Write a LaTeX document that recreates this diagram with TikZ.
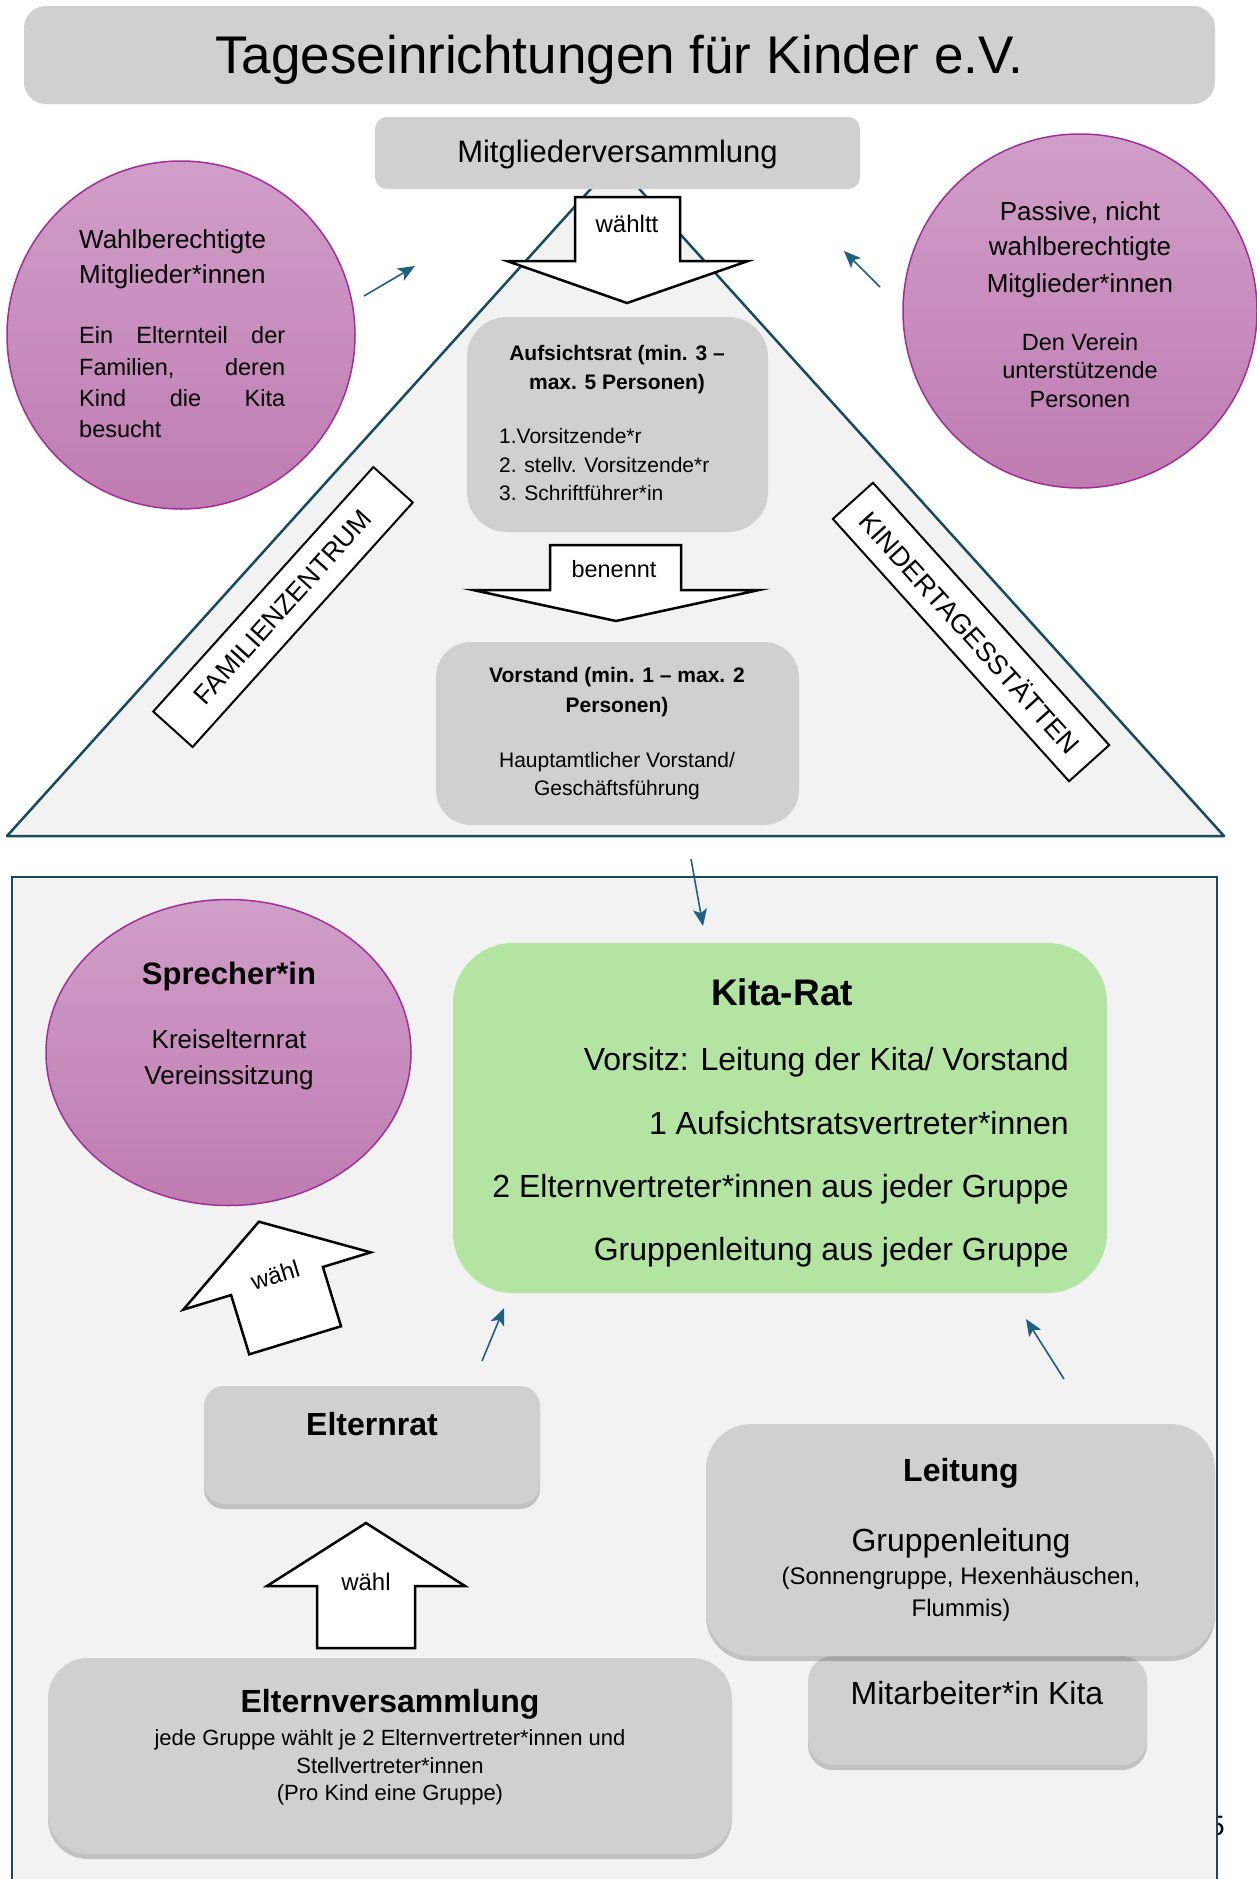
\documentclass[tikz,border=0pt]{standalone}
\usepackage{fontspec}
\setmainfont{Liberation Sans}
\usetikzlibrary{shapes.geometric,shadows,arrows.meta}
\definecolor{boxgray}{RGB}{208,208,208}
\definecolor{bgfill}{RGB}{242,242,242}
\definecolor{tealline}{RGB}{24,74,98}
\definecolor{arrowteal}{RGB}{31,95,128}
\definecolor{ptop}{RGB}{208,158,200}
\definecolor{pbot}{RGB}{191,124,178}
\definecolor{pedge}{RGB}{160,48,152}
\definecolor{kitagreen}{RGB}{180,228,162}
\newcommand\fsz[1]{\fontsize{#1}{#1}\selectfont}
\begin{document}
\begin{tikzpicture}[x=1pt,y=-1pt,
  graybox/.style={rectangle, fill=boxgray, draw=none, inner sep=0pt},
  shbox/.style={graybox, drop shadow={shadow xshift=0pt, shadow yshift=-5pt, opacity=0.2, fill=black}},
  txt/.style={inner sep=0pt, anchor=base, text=black},
  blockarrow/.style={fill=white, draw=black, line width=2.5pt, line join=miter},
  tealarrow/.style={draw=arrowteal, line width=1.6pt, -{Stealth[length=17pt,width=14pt,inset=4pt]}},
  pcircle/.style={inner sep=0pt, top color=ptop, bottom color=pbot, draw=pedge, line width=1.5pt},
  labelbox/.style={draw=black, fill=white, line width=2pt, inner sep=0pt}]
\useasboundingbox (0,0) rectangle (1257,1879);
\clip (0,0) rectangle (1257,1879);
\fill[white] (0,0) rectangle (1257,1879);

% title
\node[graybox, rounded corners=22pt, minimum width=1191pt, minimum height=98pt] (title) at (619.5,55) {};
\node[txt] (titletxt) at (619.5,73) {\fsz{53}Tageseinrichtungen für Kinder e.V.};

% triangle
\coordinate (apex) at (615,162);
\coordinate (tbr) at (1224,836);
\coordinate (tbl) at (7,836);
\draw[fill=bgfill, draw=tealline, line width=2.5pt, line join=round] (apex) -- (tbr) -- (tbl) -- cycle;

% Mitgliederversammlung
\node[graybox, rounded corners=12pt, minimum width=485pt, minimum height=72pt] (mv) at (617.5,153) {};
\node[txt] (mvtxt) at (617.5,162) {\fsz{31}Mitgliederversammlung};

% waehltt arrow
\draw[blockarrow] (575,197) -- (680,197) -- (680,261) -- (748,261) -- (627,303) -- (507,261) -- (575,261) -- cycle;
\node[txt] (waehltt) at (627,232) {\fsz{24}wähltt};

% left circle
\node[pcircle, circle, minimum size=348pt] (cleft) at (181,335) {};
\node[txt, anchor=base west] (cl1) at (79,248) {\fsz{26}Wahlberechtigte};
\node[txt, anchor=base west] (cl2) at (79,283) {\fsz{26}Mitglieder*innen};
\node[txt, anchor=base west] (cl3) at (79,343) {\fsz{23.5}\makebox[206pt][s]{Ein Elternteil der}};
\node[txt, anchor=base west] (cl4) at (79,375) {\fsz{23.5}\makebox[206pt][s]{Familien, deren}};
\node[txt, anchor=base west] (cl5) at (79,406) {\fsz{23.5}\makebox[206pt][s]{Kind die Kita}};
\node[txt, anchor=base west] (cl6) at (79,437) {\fsz{23.5}besucht};

% right circle
\node[pcircle, circle, minimum size=354pt] (cright) at (1080,311) {};
\node[txt] (cr1) at (1080,220) {\fsz{26}Passive, nicht};
\node[txt] (cr2) at (1080,255) {\fsz{26}wahlberechtigte};
\node[txt] (cr3) at (1080,292) {\fsz{26}Mitglieder*innen};
\node[txt] (cr4) at (1080,350) {\fsz{23.5}Den Verein};
\node[txt] (cr5) at (1080,378) {\fsz{23.5}unterstützende};
\node[txt] (cr6) at (1080,407) {\fsz{23.5}Personen};

% small arrows top
\coordinate (la1) at (364,296);
\coordinate (la2) at (415,266);
\draw[tealarrow] (la1) -- (la2);
\coordinate (ra1) at (880,287);
\coordinate (ra2) at (844,251);
\draw[tealarrow] (ra1) -- (ra2);

% Aufsichtsrat
\node[graybox, rounded corners=40pt, minimum width=301pt, minimum height=215pt] (ar) at (617.5,424.5) {};
\node[txt] (ar1) at (617,360) {\fsz{21}\bfseries Aufsichtsrat (min. 3 –};
\node[txt] (ar2) at (617,389) {\fsz{21}\bfseries max. 5 Personen)};
\node[txt, anchor=base west] (ar3) at (499,443) {\fsz{21}1.Vorsitzende*r};
\node[txt, anchor=base west] (ar4) at (499,472) {\fsz{21}2. stellv. Vorsitzende*r};
\node[txt, anchor=base west] (ar5) at (499,500) {\fsz{21}3. Schriftführer*in};

% benennt arrow
\draw[blockarrow] (550,545) -- (681,545) -- (681,590) -- (759,590) -- (616,621) -- (473,590) -- (550,590) -- cycle;
\node[txt] (benennt) at (614,577) {\fsz{23.5}benennt};

% Vorstand
\node[graybox, rounded corners=35pt, minimum width=363pt, minimum height=183pt] (vs) at (617.5,733.5) {};
\node[txt] (vs1) at (617,682) {\fsz{21}\bfseries Vorstand (min. 1 – max. 2};
\node[txt] (vs2) at (617,712) {\fsz{21}\bfseries Personen)};
\node[txt] (vs3) at (617,767) {\fsz{21}Hauptamtlicher Vorstand/};
\node[txt] (vs4) at (617,795) {\fsz{21}Geschäftsführung};

% side labels
\node[labelbox, minimum width=329pt, minimum height=53pt, rotate=48] (fam) at (283,607) {\fsz{26.5}FAMILIENZENTRUM};
\node[labelbox, minimum width=353pt, minimum height=54pt, rotate=-48] (kts) at (971,632) {\fsz{27}KINDERTAGESSTÄTTEN};

% page number fragment
\node[txt, anchor=base east] (pagenum) at (1225,1835) {\fsz{28}5};

% lower frame
\fill[bgfill] (12,877) rectangle (1217,1900);
\draw[tealline, line width=2.5pt] (12,1900) -- (12,877) -- (1217,877) -- (1217,1900);

% arrow into Kita-Rat
\coordinate (ka1) at (691,859);
\coordinate (ka2) at (703,926);
\draw[tealarrow] (ka1) -- (ka2);

% Sprecher
\node[pcircle, ellipse, minimum width=365pt, minimum height=306pt] (spr) at (228.5,1052.5) {};
\node[txt] (spr1) at (229,984) {\fsz{31}\bfseries Sprecher*in};
\node[txt] (spr2) at (229,1048) {\fsz{26}Kreiselternrat};
\node[txt] (spr3) at (229,1084) {\fsz{26}Vereinssitzung};

% Kita-Rat
\node[rectangle, fill=kitagreen, inner sep=0pt, rounded corners=60pt, minimum width=654pt, minimum height=350pt] (kr) at (780,1118) {};
\node[txt] (kr0) at (782,1005) {\fsz{37}\bfseries Kita-Rat};
\node[txt, anchor=base east] (kr1) at (1069,1070) {\fsz{32}Vorsitz: Leitung der Kita/ Vorstand};
\node[txt, anchor=base east] (kr2) at (1069,1134) {\fsz{32}1 Aufsichtsratsvertreter*innen};
\node[txt, anchor=base east] (kr3) at (1069,1197) {\fsz{32}2 Elternvertreter*innen aus jeder Gruppe};
\node[txt, anchor=base east] (kr4) at (1069,1260) {\fsz{32}Gruppenleitung aus jeder Gruppe};

% tilted waehl arrow
\begin{scope}[shift={(277,1281)}, rotate=17]
  \draw[blockarrow] (-48,62) -- (-48,0) -- (-98,0) -- (0,-62) -- (98,0) -- (48,0) -- (48,62) -- cycle;
  \node[txt, anchor=center, rotate=17] (waehl1) at (0,-6) {\fsz{24}wähl};
\end{scope}

% small arrows to Kita-Rat
\coordinate (ea1) at (482,1361);
\coordinate (ea2) at (504,1308);
\draw[tealarrow] (ea1) -- (ea2);
\coordinate (lea1) at (1064,1379);
\coordinate (lea2) at (1026,1319);
\draw[tealarrow] (lea1) -- (lea2);

% Elternrat
\node[shbox, rounded corners=20pt, minimum width=336pt, minimum height=118pt] (er) at (372,1445) {};
\node[txt] (ertxt) at (372,1435) {\fsz{32}\bfseries Elternrat};

% vertical waehl arrow
\draw[blockarrow] (317,1648) -- (317,1586) -- (267,1586) -- (366,1523) -- (465,1586) -- (415,1586) -- (415,1648) -- cycle;
\node[txt] (waehl2) at (366,1590) {\fsz{24}wähl};

% Elternversammlung
\node[shbox, rounded corners=40pt, minimum width=684pt, minimum height=196pt] (ev) at (390,1756) {};
\node[txt] (ev1) at (390,1712) {\fsz{32}\bfseries Elternversammlung};
\node[txt] (ev2) at (390,1745) {\fsz{22}jede Gruppe wählt je 2 Elternvertreter*innen und};
\node[txt] (ev3) at (390,1773) {\fsz{22}Stellvertreter*innen};
\node[txt] (ev4) at (390,1800) {\fsz{22}(Pro Kind eine Gruppe)};

% Mitarbeiter
\node[shbox, rounded corners=25pt, minimum width=339pt, minimum height=109pt] (ma) at (977.5,1710.5) {};
\node[txt] (matxt) at (977,1704) {\fsz{32}Mitarbeiter*in Kita};

% Leitung
\node[shbox, rounded corners=45pt, minimum width=509pt, minimum height=232pt] (lt) at (960.5,1540) {};
\node[txt] (lt1) at (961,1481) {\fsz{32}\bfseries Leitung};
\node[txt] (lt2) at (961,1551) {\fsz{32}Gruppenleitung};
\node[txt] (lt3) at (961,1584) {\fsz{24}(Sonnengruppe, Hexenhäuschen,};
\node[txt] (lt4) at (961,1616) {\fsz{24}Flummis)};
\end{tikzpicture}
\end{document}
